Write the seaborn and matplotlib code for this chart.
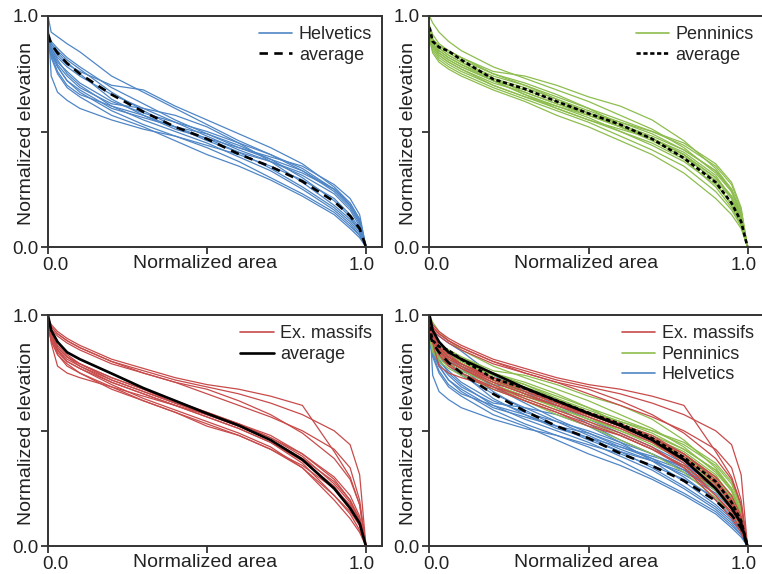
import numpy as np
import pandas as pd
import matplotlib
matplotlib.use("Agg")
import matplotlib.pyplot as plt
import seaborn as sns
from matplotlib.lines import Line2D
from matplotlib.transforms import ScaledTranslation

# ---------------- data ----------------
area = [0, .01, .03, .06, .1, .2, .3, .4, .5, .6, .7, .8, .9, .95, .98, 1.0]

helvetics = [
    [1.00, .93, .91, .88, .845, .74, .67, .60, .53, .46, .40, .33, .24, .17, .10, 0],
    [.98, .74, .67, .635, .60, .55, .51, .48, .44, .40, .35, .29, .21, .14, .08, 0],
    [.92, .87, .83, .79, .76, .70, .68, .61, .55, .49, .43, .36, .26, .19, .12, 0],
    [.90, .85, .80, .76, .71, .63, .58, .54, .50, .45, .40, .34, .25, .18, .11, 0],
    [.91, .86, .81, .75, .70, .61, .55, .50, .45, .39, .33, .25, .16, .10, .05, 0],
    [.90, .84, .78, .72, .67, .59, .53, .48, .43, .37, .30, .23, .15, .09, .05, 0],
    [.89, .82, .75, .69, .65, .57, .52, .46, .40, .35, .29, .22, .14, .08, .04, 0],
    [.93, .89, .86, .82, .78, .69, .62, .55, .49, .43, .38, .33, .25, .18, .11, 0],
    [.90, .86, .82, .78, .74, .66, .60, .54, .48, .42, .37, .31, .23, .16, .09, 0],
    [.91, .88, .85, .81, .77, .67, .59, .52, .46, .41, .37, .32, .25, .19, .12, 0],
    [.89, .83, .76, .70, .66, .61, .57, .52, .47, .41, .34, .26, .17, .11, .06, 0],
    [.92, .88, .84, .80, .75, .64, .57, .51, .47, .43, .39, .35, .27, .21, .14, 0],
    [.90, .85, .79, .74, .69, .62, .60, .57, .52, .45, .37, .28, .18, .12, .07, 0],
    [.90, .84, .78, .72, .68, .60, .56, .52, .49, .44, .38, .30, .20, .13, .07, 0],
]
helvetics_avg = [.92, .88, .84, .795, .75, .66, .585, .52, .468, .402, .348, .284, .197, .135, .08, 0]

penninics = [
    [1.00, .97, .93, .89, .85, .78, .73, .68, .63, .57, .51, .43, .32, .24, .14, 0],
    [.96, .92, .88, .85, .82, .76, .74, .70, .65, .61, .55, .46, .34, .25, .14, 0],
    [.94, .90, .87, .85, .82, .75, .70, .65, .60, .55, .50, .44, .35, .27, .16, 0],
    [.93, .88, .85, .82, .79, .73, .69, .64, .59, .54, .49, .42, .33, .25, .15, 0],
    [.92, .87, .83, .80, .77, .71, .67, .62, .57, .52, .47, .40, .30, .22, .12, 0],
    [.93, .88, .84, .81, .78, .72, .66, .61, .56, .50, .44, .37, .27, .19, .11, 0],
    [.91, .85, .81, .78, .75, .69, .64, .59, .54, .48, .42, .35, .24, .16, .09, 0],
    [.90, .84, .80, .77, .74, .68, .63, .57, .52, .46, .40, .32, .21, .14, .08, 0],
    [.92, .87, .84, .81, .78, .72, .68, .63, .58, .53, .48, .42, .33, .24, .13, 0],
    [.93, .89, .86, .83, .80, .74, .70, .64, .58, .52, .46, .39, .29, .21, .12, 0],
    [.95, .90, .86, .83, .80, .73, .67, .62, .58, .54, .50, .45, .36, .28, .17, 0],
    [.91, .86, .82, .79, .76, .70, .65, .60, .55, .50, .45, .38, .26, .17, .10, 0],
    [.92, .88, .85, .82, .79, .72, .66, .60, .55, .51, .47, .41, .31, .21, .11, 0],
    [.94, .90, .87, .84, .81, .75, .71, .66, .60, .53, .47, .40, .30, .22, .13, 0],
    [.92, .87, .83, .80, .77, .70, .65, .61, .57, .52, .47, .40, .28, .18, .09, 0],
]
penninics_avg = [.95, .89, .865, .848, .81, .727, .684, .63, .578, .53, .468, .385, .28, .19, .11, 0]

massifs = [
    [.99, .96, .93, .90, .87, .81, .77, .73, .70, .68, .65, .61, .41, .30, .18, 0],
    [.98, .95, .92, .89, .86, .80, .76, .72, .69, .66, .62, .57, .50, .44, .31, 0],
    [.97, .94, .91, .88, .85, .79, .75, .71, .68, .63, .57, .49, .38, .29, .18, 0],
    [.98, .95, .92, .89, .86, .80, .75, .71, .66, .61, .56, .50, .42, .34, .20, 0],
    [1.00, .88, .78, .75, .73, .69, .65, .61, .56, .51, .45, .37, .26, .17, .10, 0],
    [.97, .92, .86, .82, .79, .73, .68, .63, .58, .53, .47, .39, .27, .19, .11, 0],
    [.96, .91, .85, .81, .78, .72, .67, .62, .57, .52, .46, .38, .25, .16, .09, 0],
    [.96, .90, .84, .80, .77, .71, .66, .61, .56, .51, .45, .36, .22, .14, .07, 0],
    [.95, .89, .83, .78, .75, .68, .63, .58, .53, .48, .42, .34, .20, .12, .06, 0],
    [.97, .92, .86, .82, .78, .71, .66, .61, .57, .53, .48, .40, .29, .20, .12, 0],
    [.96, .91, .85, .80, .77, .70, .64, .59, .54, .49, .43, .34, .22, .15, .09, 0],
    [.95, .89, .83, .79, .75, .69, .63, .58, .52, .48, .42, .35, .25, .18, .10, 0],
    [.97, .92, .87, .83, .79, .73, .68, .62, .58, .53, .47, .40, .30, .22, .13, 0],
    [.96, .91, .86, .82, .79, .72, .67, .62, .57, .52, .46, .38, .28, .20, .11, 0],
]
massifs_avg = [1.0, .935, .885, .84, .81, .748, .685, .63, .575, .523, .46, .375, .25, .165, .10, 0]

group_names = ["Helvetics", "Penninics", "Ex. massifs"]
colors = {"Helvetics": "#4f86c6", "Penninics": "#8dbd4e", "Ex. massifs": "#c84b4b"}
avg_styles = {"Helvetics": (0, (3.2, 2.4)), "Penninics": (0, (1.6, 1.0)), "Ex. massifs": "-"}

def long_df(curves, name):
    rows = []
    for i, c in enumerate(curves):
        for a, e in zip(area, c):
            rows.append({"area": a, "elevation": e, "curve": f"{name}{i}", "group": name})
    return pd.DataFrame(rows)

dfs = {"Helvetics": long_df(helvetics, "Helvetics"),
       "Penninics": long_df(penninics, "Penninics"),
       "Ex. massifs": long_df(massifs, "Ex. massifs")}
avgs = {"Helvetics": helvetics_avg, "Penninics": penninics_avg, "Ex. massifs": massifs_avg}

# ---------------- style ----------------
sns.set_style("ticks")
plt.rcParams["font.family"] = ["Liberation Sans", "DejaVu Sans"]
spine_c = "#333333"

fig = plt.figure(figsize=(7.62, 5.74), dpi=100)
W, H = 762, 574
def pos(x0, ybot):
    return [x0 / W, 1 - ybot / H, 334 / W, 231 / H]
ax1 = fig.add_axes(pos(48, 247))
ax2 = fig.add_axes(pos(429.5, 247))
ax3 = fig.add_axes(pos(48, 546.3))
ax4 = fig.add_axes(pos(429.5, 546.3))

LW_IND = 0.9
LW_AVG = 1.9

def draw_group(ax, name):
    sns.lineplot(data=dfs[name], x="area", y="elevation", units="curve",
                 estimator=None, sort=False, color=colors[name], lw=LW_IND, ax=ax,
                 legend=False)

def draw_avg(ax, name):
    sns.lineplot(x=area, y=avgs[name], sort=False, color="black", lw=LW_AVG,
                 linestyle=avg_styles[name], ax=ax, legend=False, errorbar=None)

def style_ax(ax):
    ax.set_xlim(0, 334 / 318)
    ax.set_ylim(0, 1)
    ax.set_xticks([0, 0.5, 1.0])
    ax.set_xticklabels(["0.0", "", "1.0"])
    ax.set_yticks([0, 0.5, 1.0])
    ax.set_yticklabels(["0.0", "", "1.0"])
    for s in ax.spines.values():
        s.set_visible(True)
        s.set_color(spine_c)
        s.set_linewidth(1.4)
    ax.tick_params(direction="out", length=5, width=1.3, color=spine_c,
                   labelsize=13.5, labelcolor="#222222", pad=2)
    ax.set_xlabel("Normalized area", fontsize=14, color="#222222")
    ax.set_ylabel("Normalized elevation", fontsize=14, color="#222222")
    ax.xaxis.set_label_coords(0.47, -0.035)
    ax.yaxis.set_label_coords(-0.038, 0.49)
    labs = ax.get_xticklabels()
    labs[0].set_transform(labs[0].get_transform() + ScaledTranslation(0.07, 0, fig.dpi_scale_trans))
    labs[2].set_transform(labs[2].get_transform() + ScaledTranslation(-0.04, 0, fig.dpi_scale_trans))

def add_legend(ax, handles):
    ax.legend(handles=handles, loc="upper right", bbox_to_anchor=(1.0, 1.0),
              frameon=False, fontsize=13, handlelength=1.85, handletextpad=0.35,
              labelspacing=0.2, borderaxespad=0.35, borderpad=0.2)

# panel 1
draw_group(ax1, "Helvetics")
draw_avg(ax1, "Helvetics")
add_legend(ax1, [Line2D([], [], color=colors["Helvetics"], lw=1.2, label="Helvetics"),
                 Line2D([], [], color="black", lw=LW_AVG, ls=avg_styles["Helvetics"], label="average")])
# panel 2
draw_group(ax2, "Penninics")
draw_avg(ax2, "Penninics")
add_legend(ax2, [Line2D([], [], color=colors["Penninics"], lw=1.2, label="Penninics"),
                 Line2D([], [], color="black", lw=LW_AVG, ls=avg_styles["Penninics"], label="average")])
# panel 3
draw_group(ax3, "Ex. massifs")
draw_avg(ax3, "Ex. massifs")
add_legend(ax3, [Line2D([], [], color=colors["Ex. massifs"], lw=1.2, label="Ex. massifs"),
                 Line2D([], [], color="black", lw=LW_AVG, ls="-", label="average")])
# panel 4
for g in group_names:
    draw_group(ax4, g)
for g in group_names:
    draw_avg(ax4, g)
add_legend(ax4, [Line2D([], [], color=colors[g], lw=1.2, label=g) for g in ["Ex. massifs", "Penninics", "Helvetics"]])

for ax in (ax1, ax2, ax3, ax4):
    style_ax(ax)

fig.savefig("out.png", dpi=100)
